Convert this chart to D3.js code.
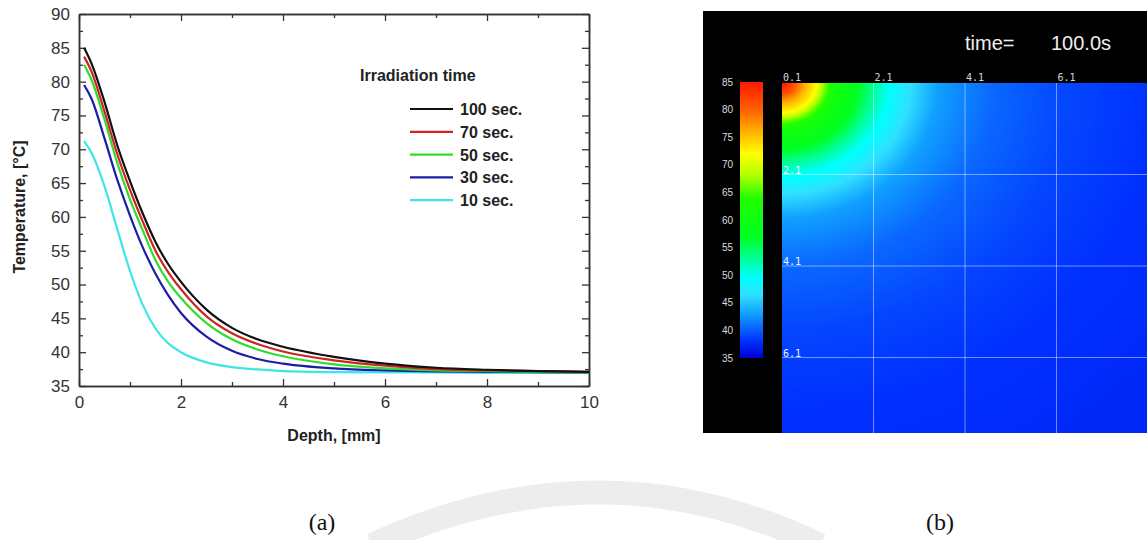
<!DOCTYPE html>
<html>
<head>
<meta charset="utf-8">
<script src="https://cdn.jsdelivr.net/npm/d3@7"></script>
<style>
  body { margin: 0; background: #fff; }
  svg { display: block; }
  .tick text { font-family: "Liberation Sans", Arial, sans-serif; }
</style>
</head>
<body>
<svg id="fig" width="1147" height="540"></svg>
<script>
// depth [mm] sampled for all curves
const depth = [0.1, 0.25, 0.5, 0.75, 1, 1.25, 1.5, 1.75, 2, 2.5, 3, 3.5, 4, 5, 6, 7, 8, 9, 10];

// temperature [°C] per irradiation time
const t100 = [85.0, 82.6, 77.0, 70.6, 65.3, 60.5, 56.3, 53.0, 50.4, 46.3, 43.6, 41.9, 40.8, 39.3, 38.3, 37.7, 37.4, 37.2, 37.1];
const t70  = [83.7, 81.4, 75.6, 69.3, 64.0, 59.3, 55.0, 51.8, 49.3, 45.3, 42.8, 41.2, 40.1, 38.8, 38.0, 37.5, 37.3, 37.2, 37.1];
const t50  = [82.5, 80.2, 74.4, 68.0, 62.6, 58.0, 53.6, 50.4, 48.0, 44.3, 41.9, 40.4, 39.4, 38.2, 37.6, 37.3, 37.2, 37.1, 37.05];
const t30  = [79.5, 77.4, 71.6, 65.5, 60.2, 55.5, 51.6, 48.4, 45.8, 42.3, 40.2, 39.0, 38.3, 37.6, 37.3, 37.15, 37.1, 37.05, 37.0];
const t10  = [71.2, 69.4, 64.5, 58.2, 52.0, 47.0, 43.5, 41.3, 40.0, 38.5, 37.8, 37.45, 37.2, 37.05, 37.0, 37.0, 36.95, 36.95, 36.95];

const seriesNames = ["100 sec.", "70 sec.", "50 sec.", "30 sec.", "10 sec."];
const seriesColors = ["#111111", "#d02424", "#2fdc2f", "#1c1ca8", "#3de6e6"];

const xTicks = [0, 2, 4, 6, 8, 10];
const yTicks = [35, 40, 45, 50, 55, 60, 65, 70, 75, 80, 85, 90];

// (b) heat map: temperature vs distance from the irradiated corner (lateral direction)
const heatR = [0, 0.22, 0.5, 0.75, 0.95, 1.2, 1.75, 2.05, 2.3, 2.8, 3.4, 4.6, 6.2, 8.2, 11];
const heatT = [86, 82, 76, 72, 66, 61, 56, 52.5, 50, 46.5, 43, 40.5, 39, 38, 37.5];
const depthStretch = 1.15;   // field falls off a little faster in depth than laterally
const gridTicks = [0.1, 2.1, 4.1, 6.1];
const barTicks = [85, 80, 75, 70, 65, 60, 55, 50, 45, 40, 35];
const barStops = [35, 38, 40.5, 43, 46.5, 49.5, 53, 57, 64, 68, 72, 76, 80, 85];
const barColors = ["#0000d0", "#0030ff", "#0a68ff", "#10a0ff", "#30e0ff", "#00ffff", "#00ff99",
                   "#00ff20", "#20ff00", "#b0ff00", "#ffff00", "#ffb000", "#ff6000", "#ff1a00"];

const svg = d3.select("#fig");

// faint watermark arc at the bottom
svg.append("path")
  .attr("d", "M372,545 Q600,440 820,545")
  .attr("fill", "none")
  .attr("stroke", "#ededed")
  .attr("stroke-width", 24);

// ---------- (a) line chart ----------
const x = d3.scaleLinear().domain([0, 10]).range([79, 589]);
const y = d3.scaleLinear().domain([35, 90]).range([386, 14]);

const axisCol = "#333";
const gA = svg.append("g");

function styleAxis(g) {
  g.selectAll("path.domain").attr("stroke", axisCol).attr("stroke-width", 1.5);
  g.selectAll(".tick line").attr("stroke", axisCol).attr("stroke-width", 1.3);
  g.selectAll(".tick text").attr("fill", "#333").attr("font-size", 17);
}

const minorX = d3.range(1, 10, 2);
const minorY = d3.range(37.5, 90, 5);

// bottom
gA.append("g").attr("transform", "translate(0,386)")
  .call(d3.axisBottom(x).tickValues(xTicks).tickSize(-7).tickSizeOuter(0).tickPadding(10).tickFormat(d3.format("d")))
  .call(styleAxis);
gA.append("g").attr("transform", "translate(0,386)")
  .call(d3.axisBottom(x).tickValues(minorX).tickSize(-4).tickSizeOuter(0).tickFormat(""))
  .call(styleAxis);
// top
gA.append("g").attr("transform", "translate(0,14)")
  .call(d3.axisTop(x).tickValues(xTicks).tickSize(-7).tickSizeOuter(0).tickFormat(""))
  .call(styleAxis);
gA.append("g").attr("transform", "translate(0,14)")
  .call(d3.axisTop(x).tickValues(minorX).tickSize(-4).tickSizeOuter(0).tickFormat(""))
  .call(styleAxis);
// left
gA.append("g").attr("transform", "translate(79,0)")
  .call(d3.axisLeft(y).tickValues(yTicks).tickSize(-7).tickSizeOuter(0).tickPadding(9))
  .call(styleAxis);
gA.append("g").attr("transform", "translate(79,0)")
  .call(d3.axisLeft(y).tickValues(minorY).tickSize(-4).tickSizeOuter(0).tickFormat(""))
  .call(styleAxis);
// right
gA.append("g").attr("transform", "translate(589,0)")
  .call(d3.axisRight(y).tickValues(yTicks).tickSize(-7).tickSizeOuter(0).tickFormat(""))
  .call(styleAxis);
gA.append("g").attr("transform", "translate(589,0)")
  .call(d3.axisRight(y).tickValues(minorY).tickSize(-4).tickSizeOuter(0).tickFormat(""))
  .call(styleAxis);

// curves
const allSeries = [t100, t70, t50, t30, t10];
const line = d3.line()
  .x((d, i) => x(depth[i]))
  .y(d => y(d))
  .curve(d3.curveMonotoneX);

// draw 10 sec first so black ends on top
for (let s = allSeries.length - 1; s >= 0; s--) {
  gA.append("path")
    .datum(allSeries[s])
    .attr("d", line)
    .attr("fill", "none")
    .attr("stroke", seriesColors[s])
    .attr("stroke-width", 2.2);
}

// axis titles
const titleFont = "'Liberation Sans', Arial, sans-serif";
gA.append("text")
  .attr("transform", "translate(25,207) rotate(-90)")
  .attr("text-anchor", "middle")
  .attr("font-family", titleFont)
  .attr("font-weight", "bold")
  .attr("font-size", 16)
  .attr("fill", "#222")
  .text("Temperature, [°C]");
gA.append("text")
  .attr("x", 334).attr("y", 441)
  .attr("text-anchor", "middle")
  .attr("font-family", titleFont)
  .attr("font-weight", "bold")
  .attr("font-size", 16)
  .attr("fill", "#222")
  .text("Depth, [mm]");

// legend
const legend = gA.append("g");
legend.append("text")
  .attr("x", 360).attr("y", 81)
  .attr("font-family", titleFont)
  .attr("font-weight", "bold")
  .attr("font-size", 16)
  .attr("fill", "#222")
  .text("Irradiation time");
seriesNames.forEach((name, i) => {
  const ly = 109 + i * 22.8;
  legend.append("line")
    .attr("x1", 410).attr("x2", 453)
    .attr("y1", ly).attr("y2", ly)
    .attr("stroke", seriesColors[i])
    .attr("stroke-width", 2.2);
  legend.append("text")
    .attr("x", 460).attr("y", ly + 6)
    .attr("font-family", titleFont)
    .attr("font-weight", "bold")
    .attr("font-size", 16)
    .attr("fill", "#222")
    .text(name);
});

// ---------- (b) heat map ----------
const gB = svg.append("g");
gB.append("rect")
  .attr("x", 703).attr("y", 11)
  .attr("width", 444).attr("height", 422)
  .attr("fill", "#000");

const fx = d3.scaleLinear().domain([0.1, 8.1]).range([782, 1148]);
const fz = d3.scaleLinear().domain([0.1, 8.1]).range([83, 449]);
const fieldW = 1147 - 782, fieldH = 433 - 83;

const tempAt = d3.scaleLinear().domain(heatR).range(heatT).clamp(true);
const color = d3.scaleLinear().domain(barStops).range(barColors).clamp(true);

// render field into a canvas, one pixel per cell
const cv = document.createElement("canvas");
cv.width = fieldW; cv.height = fieldH;
const ctx = cv.getContext("2d");
const img = ctx.createImageData(fieldW, fieldH);
for (let j = 0; j < fieldH; j++) {
  const dz = fz.invert(83 + j + 0.5) - 0.1;
  for (let i = 0; i < fieldW; i++) {
    const dx = fx.invert(782 + i + 0.5) - 0.1;
    const r = Math.sqrt(dx * dx + (dz * depthStretch) * (dz * depthStretch));
    const c = d3.rgb(color(tempAt(r)));
    const k = (j * fieldW + i) * 4;
    img.data[k] = c.r; img.data[k + 1] = c.g; img.data[k + 2] = c.b; img.data[k + 3] = 255;
  }
}
ctx.putImageData(img, 0, 0);
gB.append("image")
  .attr("x", 782).attr("y", 83)
  .attr("width", fieldW).attr("height", fieldH)
  .attr("href", cv.toDataURL());

// grid lines
gridTicks.slice(1).forEach(v => {
  gB.append("line")
    .attr("x1", fx(v)).attr("x2", fx(v)).attr("y1", 83).attr("y2", 433)
    .attr("stroke", "rgba(255,255,255,0.45)").attr("stroke-width", 1);
  gB.append("line")
    .attr("x1", 782).attr("x2", 1147).attr("y1", fz(v)).attr("y2", fz(v))
    .attr("stroke", "rgba(255,255,255,0.45)").attr("stroke-width", 1);
});

const gridFont = "'DejaVu Sans Mono', monospace";
gridTicks.forEach(v => {
  gB.append("text")
    .attr("x", fx(v) + 1).attr("y", 81)
    .attr("font-family", gridFont).attr("font-size", 10)
    .attr("fill", "#d8d8d8")
    .text(d3.format(".1f")(v));
});
gridTicks.slice(1).forEach(v => {
  gB.append("text")
    .attr("x", 783).attr("y", fz(v) - 1)
    .attr("font-family", gridFont).attr("font-size", 10)
    .attr("fill", "#e8f4ff")
    .text(d3.format(".1f")(v));
});

// color bar
const cb = d3.scaleLinear().domain([35, 85]).range([358, 82]);
const grad = svg.append("defs").append("linearGradient")
  .attr("id", "cbar").attr("x1", 0).attr("x2", 0).attr("y1", 1).attr("y2", 0);
barStops.forEach((v, i) => {
  grad.append("stop")
    .attr("offset", (v - 35) / 50)
    .attr("stop-color", barColors[i]);
});
gB.append("rect")
  .attr("x", 740).attr("y", cb(85))
  .attr("width", 23).attr("height", cb(35) - cb(85))
  .attr("fill", "url(#cbar)");
barTicks.forEach(v => {
  gB.append("text")
    .attr("x", 733).attr("y", cb(v) + 3.5)
    .attr("text-anchor", "end")
    .attr("font-family", titleFont).attr("font-size", 10)
    .attr("fill", "#dcdcdc")
    .text(v);
});

// time label
gB.append("text")
  .attr("x", 965).attr("y", 50)
  .attr("font-family", titleFont).attr("font-size", 20)
  .attr("fill", "#eeeeee")
  .text("time=");
gB.append("text")
  .attr("x", 1051).attr("y", 50)
  .attr("font-family", titleFont).attr("font-size", 20)
  .attr("fill", "#eeeeee")
  .text("100.0s");

// panel captions
const capFont = "'Liberation Serif', 'Times New Roman', serif";
svg.append("text").attr("x", 322).attr("y", 530)
  .attr("text-anchor", "middle")
  .attr("font-family", capFont).attr("font-size", 24).attr("fill", "#111")
  .text("(a)");
svg.append("text").attr("x", 940).attr("y", 530)
  .attr("text-anchor", "middle")
  .attr("font-family", capFont).attr("font-size", 24).attr("fill", "#111")
  .text("(b)");
</script>
</body>
</html>
